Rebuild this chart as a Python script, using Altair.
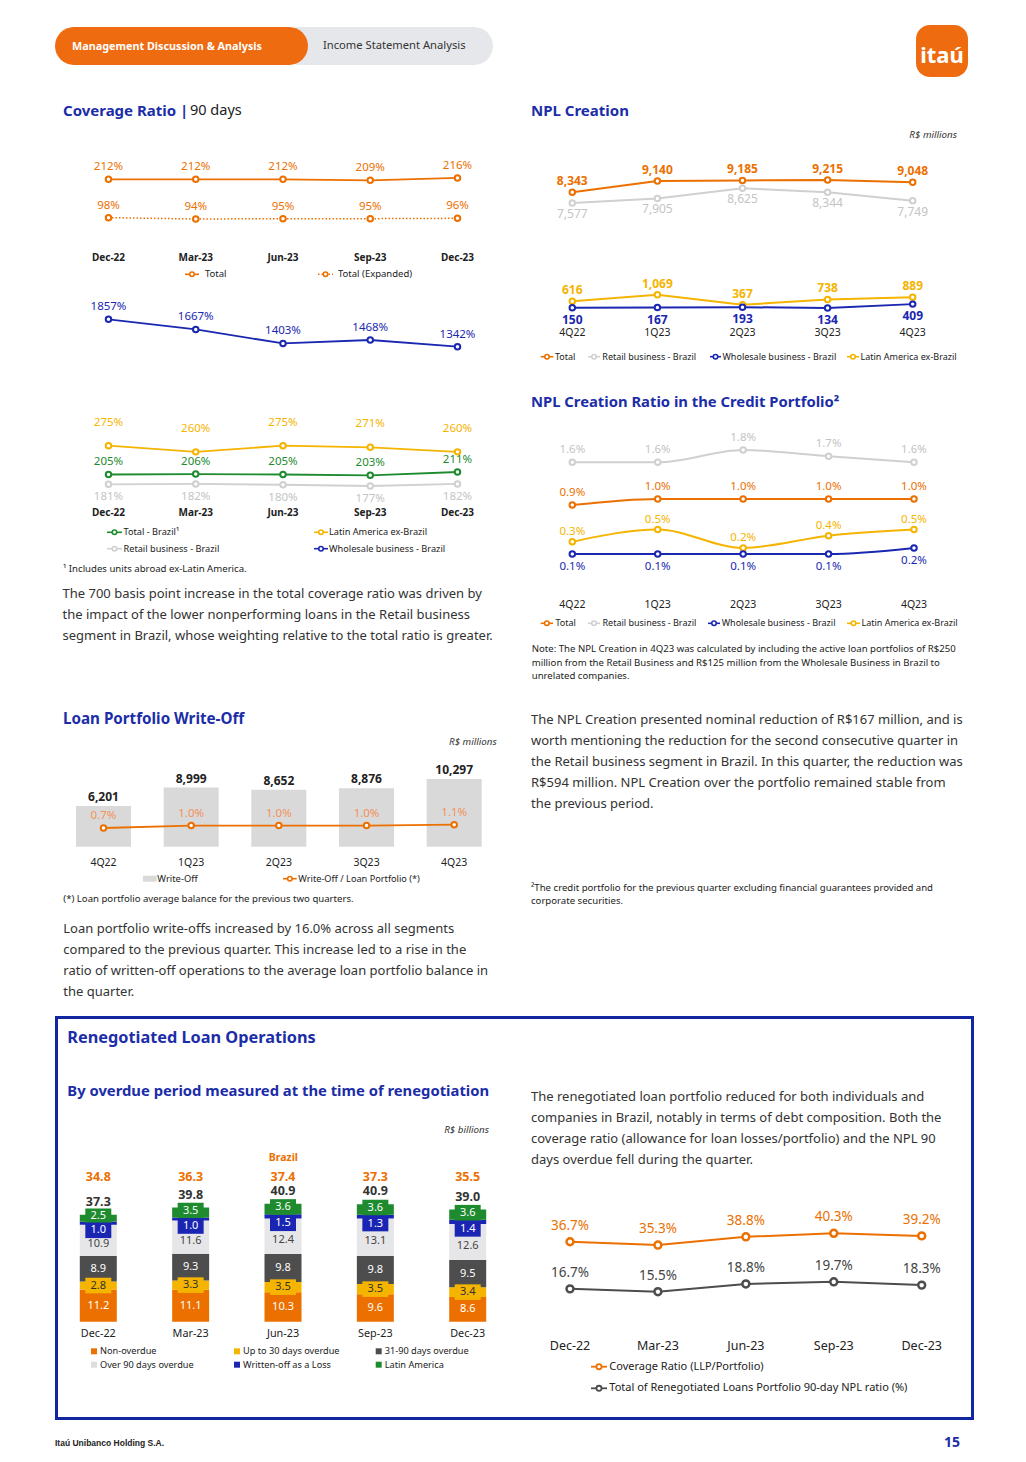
import altair as alt
import pandas as pd

# ---------------- data ----------------
COV_DATES = ["Dec-22", "Mar-23", "Jun-23", "Sep-23", "Dec-23"]
cov_total = [212, 212, 212, 209, 216]
cov_total_exp = [98, 94, 95, 95, 96]
cov_wholesale = [1857, 1667, 1403, 1468, 1342]
cov_latam = [275, 260, 275, 271, 260]
cov_total_brazil = [205, 206, 205, 203, 211]
cov_retail = [181, 182, 180, 177, 182]

QUARTERS = ["4Q22", "1Q23", "2Q23", "3Q23", "4Q23"]
npl_total = [8343, 9140, 9185, 9215, 9048]
npl_retail = [7577, 7905, 8625, 8344, 7749]
npl_latam = [616, 1069, 367, 738, 889]
npl_wholesale = [150, 167, 193, 134, 409]

ratio_retail = [1.6, 1.6, 1.8, 1.7, 1.6]
ratio_total = [0.9, 1.0, 1.0, 1.0, 1.0]
ratio_latam = [0.3, 0.5, 0.2, 0.4, 0.5]
ratio_wholesale = [0.1, 0.1, 0.1, 0.1, 0.2]

wo_values = [6201, 8999, 8652, 8876, 10297]
wo_ratio = [0.7, 1.0, 1.0, 1.0, 1.1]

RENEG_DATES = ["Dec-22", "Mar-23", "Jun-23", "Sep-23", "Dec-23"]
SEGMENTS = ["Non-overdue", "Up to 30 days overdue", "31-90 days overdue",
            "Over 90 days overdue", "Written-off as a Loss", "Latin America"]
seg_non_overdue = [11.2, 11.1, 10.3, 9.6, 8.6]
seg_up30 = [2.8, 3.3, 3.5, 3.5, 3.4]
seg_31_90 = [8.9, 9.3, 9.8, 9.8, 9.5]
seg_over90 = [10.9, 11.6, 12.4, 13.1, 12.6]
seg_written = [1.0, 1.0, 1.5, 1.3, 1.4]
seg_latam = [2.5, 3.5, 3.6, 3.6, 3.6]
reneg_total = [37.3, 39.8, 40.9, 40.9, 39.0]
reneg_brazil = [34.8, 36.3, 37.4, 37.3, 35.5]

reneg_coverage = [36.7, 35.3, 38.8, 40.3, 39.2]
reneg_npl90 = [16.7, 15.5, 18.8, 19.7, 18.3]

P1 = ["The 700 basis point increase in the total coverage ratio was driven by",
      "the impact of the lower nonperforming loans in the Retail business",
      "segment in Brazil, whose weighting relative to the total ratio is greater."]
P2 = ["Loan portfolio write-offs increased by 16.0% across all segments",
      "compared to the previous quarter. This increase led to a rise in the",
      "ratio of written-off operations to the average loan portfolio balance in",
      "the quarter."]
P3 = ["The NPL Creation presented  nominal reduction of R$167 million, and is",
      "worth mentioning the reduction for the second consecutive quarter in",
      "the Retail business segment in Brazil. In this quarter, the reduction was",
      "R$594 million. NPL Creation over the portfolio remained stable from",
      "the previous period."]
P4 = ["The renegotiated loan portfolio reduced for both individuals and",
      "companies in Brazil, notably in terms of debt composition. Both the",
      "coverage ratio (allowance for loan losses/portfolio) and the NPL 90",
      "days overdue fell during the quarter."]
NOTE = ["Note: The NPL Creation in 4Q23 was calculated by including the active loan portfolios of R$250",
        "million from the Retail Business and R$125 million from the Wholesale Business in Brazil to",
        "unrelated companies."]
FN2 = ["\u00b2The credit portfolio for the previous quarter excluding financial guarantees provided and",
       "corporate securities."]

# ---------------- style ----------------
FONT = "Noto Sans"
BODY = "Noto Sans"
ORANGE = "#EC7000"
BLUE = "#1B2DA8"
NAVY = "#1A27B0"
YELLOW = "#F5B400"
GREEN = "#1E8B2F"
LGRAY = "#D0D0D0"
DGRAY = "#4D4D4D"
TXT = "#333333"
PSIZE = 13
FSIZE = 9.6

ONE = pd.DataFrame({"k": [0]})
L = []


def px(x):
    return x - 8


def py(y):
    return y - 8


def xscale(domain, x0, x1):
    return alt.Scale(type="point", domain=domain, range=[px(x0), px(x1)], padding=0)


def yscale(d0, d1, y0, y1):
    return alt.Scale(type="linear", domain=[d0, d1], range=[py(y0), py(y1)], zero=False, nice=False)


def txt(s, x, y, size=12, color=TXT, weight="normal", align="left", font=FONT, style=None):
    kw = dict(text=s, fontSize=size, color=color, fontWeight=weight, align=align,
              baseline="middle", font=font)
    if style:
        kw["fontStyle"] = style
    L.append(alt.Chart(ONE).mark_text(**kw).encode(x=alt.value(px(x)), y=alt.value(py(y))))


def para(lines, x, y0, step, size=PSIZE, color=TXT, font=BODY):
    for i, s in enumerate(lines):
        txt(s, x, y0 + i * step, size=size, color=color, font=font)


def rect(x0, y0, x1, y1, **kw):
    L.append(alt.Chart(ONE).mark_rect(**kw).encode(
        x=alt.value(px(x0)), x2=alt.value(px(x1)), y=alt.value(py(y0)), y2=alt.value(py(y1))))


def series(cats, vals, labels, xs, ys, color, dy, lcolor=None, lsize=11, lweight="normal",
           sw=2.0, psize=30, psw=2.0, dash=None, interp="linear"):
    df = pd.DataFrame({"cat": cats, "val": vals, "lbl": labels, "i": list(range(len(cats)))})
    enc = dict(x=alt.X("cat:N", scale=xs, axis=None), y=alt.Y("val:Q", scale=ys, axis=None))
    lk = dict(color=color, strokeWidth=sw, interpolate=interp)
    if dash:
        lk["strokeDash"] = dash
    L.append(alt.Chart(df).mark_line(**lk).encode(order=alt.Order("i:Q"), **enc))
    L.append(alt.Chart(df).mark_point(shape="circle", filled=True, fill="white", stroke=color,
                                      strokeWidth=psw, size=psize, opacity=1).encode(**enc))
    L.append(alt.Chart(df).mark_text(dy=dy, fontSize=lsize, fontWeight=lweight, color=lcolor or color,
                                     font=FONT, align="center", baseline="middle").encode(text="lbl:N", **enc))


def xlabels(cats, xs, y, size=10.5, weight="normal", color="#222222"):
    df = pd.DataFrame({"cat": cats})
    L.append(alt.Chart(df).mark_text(fontSize=size, fontWeight=weight, color=color, font=FONT,
                                     align="center", baseline="middle").encode(
        x=alt.X("cat:N", scale=xs, axis=None), y=alt.value(py(y)), text="cat:N"))


def leg_line(x0, x1, y, color, text, size=9.2, dash=None, tx=None, psize=20, sw=1.6, tcolor="#222222"):
    rk = dict(color=color, strokeWidth=sw)
    if dash:
        rk["strokeDash"] = dash
    L.append(alt.Chart(ONE).mark_rule(**rk).encode(
        x=alt.value(px(x0)), x2=alt.value(px(x1)), y=alt.value(py(y))))
    L.append(alt.Chart(ONE).mark_point(shape="circle", filled=True, fill="white", stroke=color,
                                       strokeWidth=sw, size=psize, opacity=1).encode(
        x=alt.value(px((x0 + x1) / 2)), y=alt.value(py(y))))
    txt(text, tx if tx is not None else x1 + 2, y, size=size, color=tcolor)


def pct(vals, f="{:.0f}%"):
    return [f.format(v) for v in vals]


# ---------------- header ----------------
rect(280, 27, 493, 65, fill="#E6E7EB", cornerRadius=19)
rect(55, 27, 308, 65, fill="#EE6B10", cornerRadius=19)
txt("Management Discussion & Analysis", 72, 46.5, size=10.8, color="white", weight="bold")
txt("Income Statement Analysis", 323, 46, size=11.2, color="#333333")
rect(916, 25, 968, 77, fill="#EE6B10", cornerRadius=14)
txt("ita\u00fa", 942, 56, size=22, color="white", weight="bold", align="center")

# ---------------- coverage ratio ----------------
txt("Coverage Ratio", 63, 111, size=15, color=BLUE, weight="bold")
txt("|", 180, 111, size=15, color=BLUE, weight="bold")
txt("90 days", 190, 111, size=14.5, color="#222222")

xs1 = xscale(COV_DATES, 108.5, 457.5)
ys1 = yscale(94, 212, 219, 179.3)
series(COV_DATES, cov_total, pct(cov_total), xs1, ys1, ORANGE, -12, lsize=11.5, sw=1.8)
series(COV_DATES, cov_total_exp, pct(cov_total_exp), xs1, ys1, ORANGE, -12, lsize=11.5, sw=1.5, dash=[1.5, 2])
xlabels(COV_DATES, xs1, 258, size=10, weight="bold")
leg_line(185, 199, 274.3, ORANGE, "Total", size=9.5, tx=205)
leg_line(318, 333, 274.3, ORANGE, "Total (Expanded)", size=9.5, tx=338, dash=[1.5, 2])

xs2 = xs1
ys2 = yscale(1342, 1857, 346.7, 319.3)
series(COV_DATES, cov_wholesale, pct(cov_wholesale), xs2, ys2, NAVY, -12, lsize=11.5, sw=1.8)

ys3 = yscale(177, 275, 486, 445.7)
series(COV_DATES, cov_retail, pct(cov_retail), xs1, ys3, LGRAY, 13, lcolor="#C4C4C4", lsize=11.5, sw=1.8)
series(COV_DATES, cov_latam, pct(cov_latam), xs1, ys3, YELLOW, -23, lsize=11.5, sw=1.8)
series(COV_DATES, cov_total_brazil, pct(cov_total_brazil), xs1, ys3, GREEN, -12, lsize=11.5, sw=1.8)
xlabels(COV_DATES, xs1, 513.3, size=10, weight="bold")
leg_line(107, 122, 532.3, GREEN, "Total - Brazil\u00b9", tx=123.5)
leg_line(314, 328, 532.3, YELLOW, "Latin America ex-Brazil", tx=329)
leg_line(107, 122, 548.7, LGRAY, "Retail business - Brazil", tx=123.5)
leg_line(314, 328, 548.7, NAVY, "Wholesale business - Brazil", tx=329)
txt("\u00b9 Includes units abroad ex-Latin America.", 63, 569.3, size=FSIZE, color="#222222")
para(P1, 62.5, 594, 21)

# ---------------- NPL creation ----------------
txt("NPL Creation", 531, 110.5, size=15, color=BLUE, weight="bold")
txt("R$ millions", 957, 135, size=9.8, color="#333333", align="right", style="italic")
xs4 = xscale(QUARTERS, 572.3, 912.7)
ys4 = yscale(134, 9215, 308, 180)
fmtk = lambda vals: ["{:,}".format(v) for v in vals]
series(QUARTERS, npl_retail, fmtk(npl_retail), xs4, ys4, LGRAY, 11, lcolor="#C4C4C4", lsize=12)
series(QUARTERS, npl_total, fmtk(npl_total), xs4, ys4, ORANGE, -11, lsize=12, lweight="bold")
series(QUARTERS, npl_latam, fmtk(npl_latam), xs4, ys4, YELLOW, -11, lsize=12, lweight="bold")
series(QUARTERS, npl_wholesale, fmtk(npl_wholesale), xs4, ys4, NAVY, 12, lsize=12, lweight="bold")
xlabels(QUARTERS, xs4, 333.3, size=10.5)
leg_line(540.7, 553.3, 356.7, ORANGE, "Total", size=9, tx=555)
leg_line(588, 600, 356.7, LGRAY, "Retail business - Brazil", size=9, tx=602.3)
leg_line(710, 721, 356.7, NAVY, "Wholesale business - Brazil", size=9, tx=722.5)
leg_line(847, 859, 356.7, YELLOW, "Latin America ex-Brazil", size=9, tx=860.5)

# ---------------- NPL creation ratio ----------------
txt("NPL Creation Ratio in the Credit Portfolio\u00b2", 531, 403.3, size=14.8, color=BLUE, weight="bold")
xs5 = xscale(QUARTERS, 572.3, 914)
ys5 = yscale(0.1, 1.0, 554, 499)
f1 = "{:.1f}%"
series(QUARTERS, ratio_retail, pct(ratio_retail, f1), xs5, ys5, LGRAY, -12, lcolor="#C4C4C4", lsize=11.5, interp="monotone")
series(QUARTERS, ratio_total, pct(ratio_total, f1), xs5, ys5, ORANGE, -12, lsize=11.5, interp="monotone")
series(QUARTERS, ratio_latam, pct(ratio_latam, f1), xs5, ys5, YELLOW, -10, lsize=11.5, interp="monotone")
series(QUARTERS, ratio_wholesale, pct(ratio_wholesale, f1), xs5, ys5, NAVY, 13, lsize=11.5, interp="monotone")
xlabels(QUARTERS, xs5, 605.3, size=10.5)
leg_line(540.7, 553, 623.3, ORANGE, "Total", size=9, tx=555.5)
leg_line(588, 600, 623.3, LGRAY, "Retail business - Brazil", size=9, tx=602.5)
leg_line(708, 720, 623.3, NAVY, "Wholesale business - Brazil", size=9, tx=721.7)
leg_line(847, 860, 623.3, YELLOW, "Latin America ex-Brazil", size=9, tx=861.5)
para(NOTE, 531.7, 649.3, 13.4, size=FSIZE, color="#222222")

# ---------------- write-off ----------------
txt("Loan Portfolio Write-Off", 63, 719, size=15.2, color=BLUE, weight="bold")
txt("R$ millions", 496.7, 742.3, size=9.8, color="#333333", align="right", style="italic")
xs6 = xscale(QUARTERS, 103.5, 454.2)
ys6 = yscale(0, 10297, 846.7, 779)
wo_df = pd.DataFrame({"cat": QUARTERS, "val": wo_values, "lbl": fmtk(wo_values)})
wo_enc = dict(x=alt.X("cat:N", scale=xs6, axis=None), y=alt.Y("val:Q", scale=ys6, axis=None))
L.append(alt.Chart(wo_df).mark_bar(size=55, color="#D9D9D9").encode(**wo_enc))
L.append(alt.Chart(wo_df).mark_text(dy=-9, fontSize=12, fontWeight="bold", color="#222222", font=FONT,
                                    align="center", baseline="middle").encode(text="lbl:N", **wo_enc))
ys7 = yscale(0.7, 1.1, 828, 824.7)
series(QUARTERS, wo_ratio, pct(wo_ratio, f1), xs6, ys7, ORANGE, -12, lcolor="#F2925A", lsize=11.5, sw=1.8)
xlabels(QUARTERS, xs6, 862.7, size=10.5)
rect(143, 875.7, 156.7, 881.7, fill="#D9D9D9")
txt("Write-Off", 157.3, 878.7, size=9.4, color="#222222")
leg_line(283, 296.7, 878.7, ORANGE, "Write-Off / Loan Portfolio (*)", size=9.2, tx=298.3)
txt("(*) Loan portfolio average balance for the previous two quarters.", 63.3, 899, size=FSIZE, color="#222222")
para(P2, 63.3, 929.3, 20.8)

# ---------------- right column text ----------------
para(P3, 531, 720, 21)
para(FN2, 531, 888, 13.3, size=FSIZE, color="#222222")

# ---------------- renegotiated ----------------
rect(56.5, 1017.5, 972.5, 1418.5, fillOpacity=0, stroke="#1226A0", strokeWidth=3)
txt("Renegotiated Loan Operations", 67.3, 1038.3, size=16.3, color=BLUE, weight="bold")
txt("By overdue period measured at the time of renegotiation", 67.3, 1091.7, size=14.8, color=BLUE, weight="bold")
txt("R$ billions", 489, 1130, size=9.8, color="#333333", align="right", style="italic")
txt("Brazil", 283.3, 1158.3, size=10.5, color=ORANGE, weight="bold", align="center")

SEG_COLORS = [ORANGE, YELLOW, DGRAY, "#E6E6E9", "#1A26B3", GREEN]
SEG_TEXT = ["white", "#333333", "white", "#444444", "white", "white"]
SEG_DY = [0, 0, 0, 4, 7, -2]
seg_lists = [seg_non_overdue, seg_up30, seg_31_90, seg_over90, seg_written, seg_latam]
rows = []
for i, d in enumerate(RENEG_DATES):
    base = 0.0
    for j, (s, vals) in enumerate(zip(SEGMENTS, seg_lists)):
        v = vals[i]
        rows.append(dict(cat=d, seg=s, v=v, y0=base, y1=base + v, mid=base + v / 2,
                         lbl="{:.1f}".format(v)))
        base += v
seg_df = pd.DataFrame(rows)
xs8 = xscale(RENEG_DATES, 98.3, 467.7)
ys8 = yscale(0, 37.3, 1321.7, 1214.7)
segc = alt.Color("seg:N", scale=alt.Scale(domain=SEGMENTS, range=SEG_COLORS), legend=None)
L.append(alt.Chart(seg_df).mark_bar(size=37).encode(
    x=alt.X("cat:N", scale=xs8, axis=None), y=alt.Y("y0:Q", scale=ys8, axis=None), y2="y1:Q", color=segc))
BOX_SIZE = 676  # 26 px wide label box
BOX_HALF = BOX_SIZE ** 0.5 / 2
seg_enc = dict(x=alt.X("cat:N", scale=xs8, axis=None), y=alt.Y("mid:Q", scale=ys8, axis=None))
for j in [0, 1, 2, 3, 5, 4]:
    o = SEG_DY[j] / BOX_HALF
    box = "M-1,{:.3f}H1V{:.3f}H-1Z".format(-0.6 + o, 0.6 + o)
    sub = seg_df[seg_df.seg == SEGMENTS[j]]
    L.append(alt.Chart(sub).mark_point(shape=box, filled=True, size=BOX_SIZE, opacity=1, strokeWidth=0,
                                       color=SEG_COLORS[j]).encode(**seg_enc))
for j in range(len(SEGMENTS)):
    sub = seg_df[seg_df.seg == SEGMENTS[j]]
    L.append(alt.Chart(sub).mark_text(fontSize=11, color=SEG_TEXT[j], font=FONT, align="center",
                                      baseline="middle", dy=SEG_DY[j]).encode(text="lbl:N", **seg_enc))
tot_df = pd.DataFrame({"cat": RENEG_DATES, "val": reneg_total, "lbl": ["{:.1f}".format(v) for v in reneg_total],
                       "br": ["{:.1f}".format(v) for v in reneg_brazil]})
L.append(alt.Chart(tot_df).mark_text(dy=-13, fontSize=12.5, fontWeight="bold", color="#333333", font=FONT,
                                     align="center", baseline="middle").encode(
    x=alt.X("cat:N", scale=xs8, axis=None), y=alt.Y("val:Q", scale=ys8, axis=None), text="lbl:N"))
L.append(alt.Chart(tot_df).mark_text(fontSize=12.5, fontWeight="bold", color=ORANGE, font=FONT,
                                     align="center", baseline="middle").encode(
    x=alt.X("cat:N", scale=xs8, axis=None), y=alt.value(py(1176.7)), text="br:N"))
xlabels(RENEG_DATES, xs8, 1334.3, size=10.8)
LEG_POS = [(91, 1351.3), (234, 1351.3), (375.7, 1351.3), (91, 1364.7), (234, 1364.7), (375.7, 1364.7)]
for j, s in enumerate(SEGMENTS):
    lx, ly = LEG_POS[j]
    rect(lx, ly - 3, lx + 6, ly + 3, fill=SEG_COLORS[j] if j != 3 else "#DDDDE0")
    txt(s, lx + 9, ly, size=9.2, color="#222222")

para(P4, 531, 1097, 21)
xs9 = xscale(RENEG_DATES, 570, 921.7)
ys9 = yscale(15.5, 40.3, 1291.7, 1233.3)
series(RENEG_DATES, reneg_coverage, pct(reneg_coverage, f1), xs9, ys9, ORANGE, -16, lsize=13.5,
       sw=2, psize=48, psw=2.5)
series(RENEG_DATES, reneg_npl90, pct(reneg_npl90, f1), xs9, ys9, "#4D4D4D", -16, lcolor="#444444",
       lsize=13.5, sw=2, psize=48, psw=2.5)
xlabels(RENEG_DATES, xs9, 1346, size=12.5)
leg_line(591, 607, 1366.7, ORANGE, "Coverage Ratio (LLP/Portfolio)", size=11, tx=609.3, psize=26, sw=1.8)
leg_line(591, 607, 1388.3, "#4D4D4D", "Total of Renegotiated Loans Portfolio 90-day NPL ratio (%)", size=11,
         tx=609.3, psize=26, sw=1.8)

# ---------------- footer ----------------
txt("Ita\u00fa Unibanco Holding S.A.", 55, 1443, size=8.5, color="#222222", weight="bold",
    font="Liberation Sans Narrow, Liberation Sans")
txt("15", 960, 1443, size=14, color=BLUE, weight="bold", align="right")

chart = alt.layer(*L).resolve_scale(x="independent", y="independent", color="independent").properties(
    width=1010, height=1440, padding=0, background="white"
).configure_view(strokeWidth=0)

chart.save("out.html", embed_options={"renderer": "svg", "actions": False})
